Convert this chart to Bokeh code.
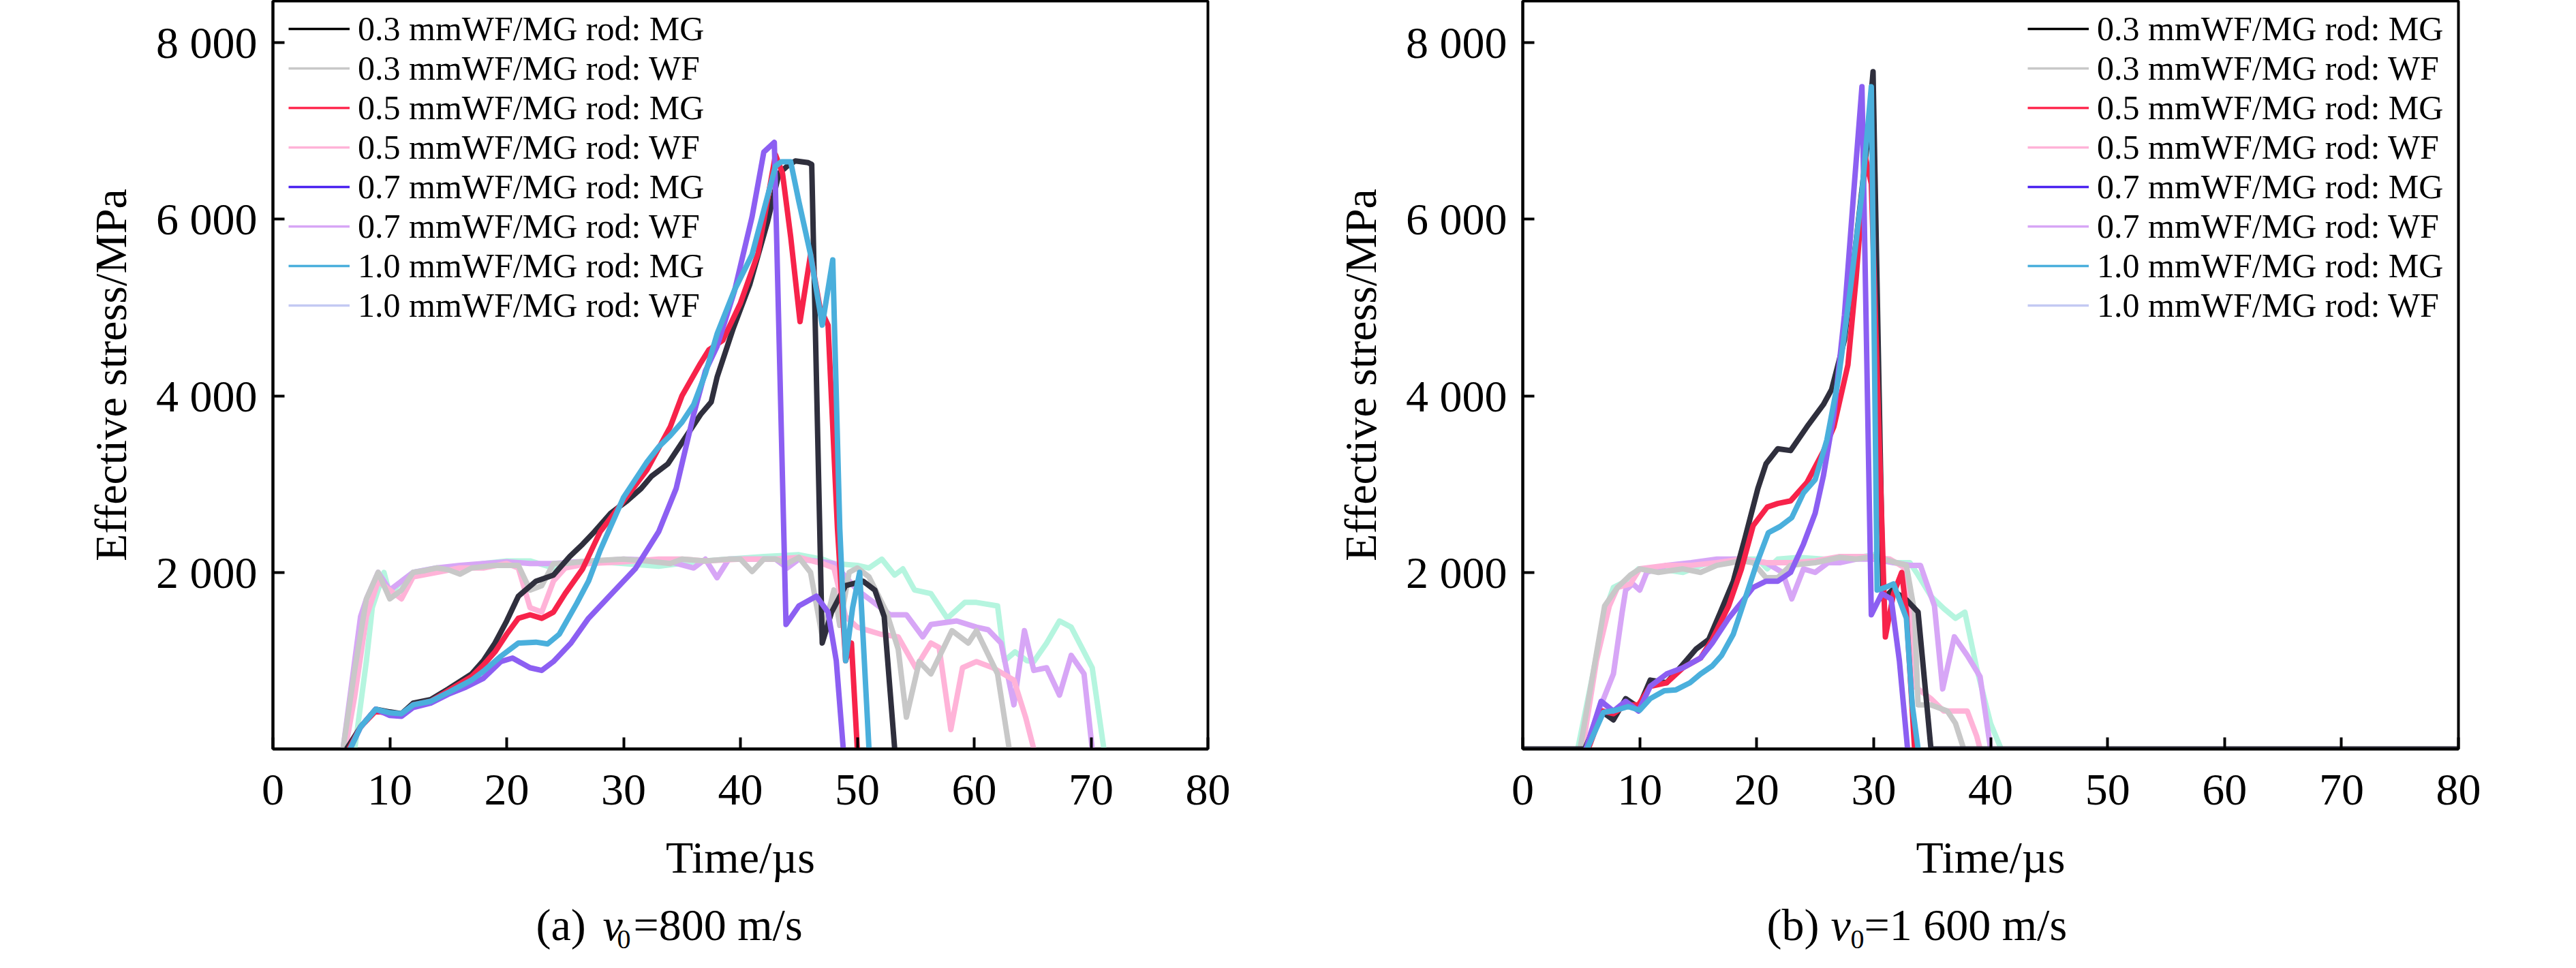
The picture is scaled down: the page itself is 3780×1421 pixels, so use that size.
from bokeh.plotting import figure
from bokeh.models import Range1d, FixedTicker, Legend, LegendItem, Label, CustomJSTickFormatter
from bokeh.layouts import row, column
from bokeh.embed import file_html
from bokeh.resources import INLINE

FONT = "Liberation Serif"
NAN = float("nan")

labels = ["0.3 mmWF/MG rod: MG", "0.3 mmWF/MG rod: WF", "0.5 mmWF/MG rod: MG", "0.5 mmWF/MG rod: WF",
          "0.7 mmWF/MG rod: MG", "0.7 mmWF/MG rod: WF", "1.0 mmWF/MG rod: MG", "1.0 mmWF/MG rod: WF"]
line_colors = ["#2f2f3d", "#c8c8c8", "#f7234a", "#ffb3d8", "#8c5ff2", "#d7a6f6", "#4aafdc", "#b5f5df"]
legend_colors = ["#000000", "#c8c8c8", "#ff2a4f", "#ffb3d8", "#4b23f0", "#d7a6f6", "#4aafdc", "#c3c9f3"]

x_ticks = [0, 10, 20, 30, 40, 50, 60, 70, 80]
y_ticks = [2000, 4000, 6000, 8000]
x_title = "Time/µs"
y_title = "Effective stress/MPa"

# ---------------- (a) v0 = 800 m/s ----------------
a_03mg_t = [6.3, 7.5, 8.8, 10.0, 11.0, 12.0, 13.5, 15.0, 17.0, 18.0, 19.0, 20.0, 21.0, 22.5, 24.0, 25.4, 26.5, 27.5,
            28.9, 30.3, 31.5, 32.4, 33.8, 35.2, 36.6, 37.5, 38.0, 39.4, 40.8, 42.3, 43.3, 44.0, 44.7, 45.8, 46.1, 47.0,
            47.8, 49.0, 50.5, 51.5, 52.3, 53.2]
a_03mg_v = [0, 250, 450, 420, 400, 520, 560, 680, 850, 1000, 1200, 1450, 1730, 1900, 1970, 2180, 2320, 2460,
            2670, 2810, 2950, 3090, 3230, 3510, 3790, 3930, 4210, 4770, 5260, 5960, 6520, 6600, 6660, 6640, 6620, 1200,
            1550, 1850, 1900, 1800, 1500, 0]

a_05mg_t = [6.5, 7.5, 8.8, 10.0, 11.0, 12.0, 13.5, 15.0, 17.0, 18.0, 19.0, 20.0, 21.0, 22.0, 23.0, 24.0, 25.0, 26.5,
            28.0, 30.0, 32.0, 34.0, 35.0, 36.5, 37.3, 38.5, 40.0, 41.5, 43.0, 43.6, 44.3, 45.1, 46.0, 46.8, 47.5, 48.3,
            49.0, 49.5, 50.0]
a_05mg_v = [0, 250, 430, 400, 390, 500, 540, 660, 820, 950, 1100, 1300, 1480, 1520, 1480, 1550, 1760, 2040,
            2460, 2810, 3160, 3650, 4000, 4350, 4520, 4630, 5050, 5610, 6730, 6520, 5800, 4840, 5600, 5000, 4800, 2500,
            1000, 1200, 0]

a_07mg_t = [6.6, 7.5, 8.8, 10.0, 11.0, 12.0, 13.5, 15.0, 16.5, 18.0, 19.5, 20.5, 22.0, 23.0, 24.0, 25.5, 27.0, 29.0,
            31.0, 33.0, 34.5, 36.0, 37.0, 38.0, 39.5, 41.0, 42.0, 42.9, 43.9, 45.0, 46.5, 47.5, 48.2, 48.8]
a_07mg_v = [0, 250, 450, 380, 370, 470, 520, 620, 700, 800, 990, 1030, 920, 890, 990, 1200, 1480, 1760,
            2040, 2460, 2950, 3790, 4280, 4560, 5190, 6030, 6760, 6870, 1410, 1620, 1730, 1550, 1000, 0]

a_10mg_t = [6.6, 7.5, 8.8, 10.0, 11.0, 12.0, 13.5, 15.0, 17.0, 18.0, 19.5, 21.0, 22.5, 23.5, 24.5, 26.0, 27.0, 28.0,
            29.0, 30.0, 31.0, 32.0, 33.0, 34.0, 35.0, 36.0, 37.0, 38.0, 39.5, 41.0, 42.0, 43.0, 43.5, 44.3, 45.0, 46.0,
            47.0, 47.9, 48.5, 49.0, 49.6, 50.2, 51.0]
a_10mg_v = [0, 250, 450, 410, 400, 500, 540, 640, 780, 880, 1050, 1200, 1210, 1190, 1300, 1650, 1900, 2250,
            2550, 2850, 3050, 3250, 3420, 3550, 3700, 3900, 4250, 4700, 5200, 5600, 6100, 6600, 6650, 6650, 6200, 5600,
            4800, 5540, 2500, 1000, 1600, 2000, 0]

a_03wf_t = [6.0, 7.0, 8.0, 9.0, 10.0, 11.0, 12.0, 13.0, 14.0, 15.0, 16.0, 17.0, 19.0, 21.0, 22.0, 23.0, 24.0, 25.0,
            27.0, 30.0, 32.0, 34.0, 35.0, 37.0, 39.0, 40.0, 41.0, 42.0, 43.0, 44.0, 45.0, 46.0, 47.0, 48.0, 48.5, 49.3,
            50.0, 51.0, 52.5, 53.5, 54.2, 55.3, 56.3, 58.1, 59.5, 60.2, 62.0, 63.0]
a_03wf_v = [0, 900, 1700, 2000, 1700, 1800, 2000, 2020, 2050, 2030, 1980, 2050, 2080, 2080, 1800, 1850, 2100, 2100,
            2130, 2150, 2130, 2100, 2150, 2130, 2150, 2150, 2010, 2150, 2150, 2100, 2170, 2000, 1270, 1800, 1400, 2000,
            2050, 1950, 1550, 1130, 360, 990, 850, 1340, 1200, 1340, 850, 0]

a_05wf_t = [6.2, 7.0, 8.0, 9.0, 10.0, 11.0, 12.0, 14.0, 16.0, 18.0, 20.0, 21.0, 22.0, 23.0, 24.0, 25.0, 27.0, 30.0,
            33.0, 35.0, 37.0, 40.0, 43.0, 45.0, 47.0, 48.0, 49.0, 50.0, 52.0, 53.5, 55.0, 56.3, 57.0, 58.0, 59.0, 60.2,
            61.6, 63.4, 64.4, 65.1]
a_05wf_v = [0, 600, 1500, 1900, 1800, 1700, 1950, 2000, 2050, 2050, 2100, 2050, 1600, 1550, 1900, 2050, 2100, 2120,
            2150, 2150, 2130, 2150, 2150, 2170, 2100, 2050, 1500, 1380, 1300, 1270, 920, 1200, 1150, 220, 920, 990,
            920, 780, 360, 0]

a_07wf_t = [6.0, 7.0, 7.5, 8.0, 9.0, 10.0, 11.0, 12.0, 14.0, 16.0, 18.0, 20.0, 22.0, 24.0, 26.0, 28.0, 30.0, 32.0,
            34.0, 36.0, 37.0, 38.0, 39.0, 41.0, 43.0, 44.0, 45.0, 47.0, 48.0, 49.0, 50.0, 51.0, 52.8, 54.2, 55.6, 56.3,
            58.5, 60.2, 61.2, 62.3, 63.4, 64.3, 65.1, 66.2, 67.3, 68.3, 69.4, 70.1]
a_07wf_v = [0, 1000, 1500, 1700, 2000, 1800, 1900, 2000, 2050, 2080, 2100, 2120, 2100, 2100, 2120, 2130, 2150, 2140,
            2120, 2050, 2150, 1940, 2150, 2150, 2150, 2050, 2150, 2120, 2100, 1950, 1800, 1700, 1520, 1520, 1270, 1410,
            1450, 1380, 1350, 1200, 500, 1340, 890, 920, 610, 1060, 850, 0]

a_10wf_t = [7.0, 8.0, 8.5, 9.5, 10.0, 11.0, 12.0, 14.0, 16.0, 18.0, 20.0, 22.0, 24.0, 25.0, 28.0, 30.0, 33.0, 36.0,
            39.0, 42.0, 45.0, 47.0, 48.0, 50.0, 51.0, 52.1, 53.2, 53.9, 54.9, 56.3, 57.7, 59.2, 60.2, 62.0, 62.6, 63.5,
            64.5, 65.1, 66.2, 67.3, 68.3, 69.2, 70.1, 71.1]
a_10wf_v = [0, 1000, 1600, 2000, 1750, 1900, 2000, 2050, 2050, 2100, 2130, 2130, 2050, 2100, 2120, 2100, 2070, 2120,
            2150, 2180, 2200, 2150, 2100, 2080, 2050, 2150, 1970, 2040, 1800, 1760, 1480, 1660, 1660, 1620, 1000, 1100,
            1000, 990, 1200, 1450, 1380, 1150, 920, 0]

# ---------------- (b) v0 = 1 600 m/s ----------------
b_03mg_t = [0, 5.3, 6.7, 7.75, 8.8, 9.9, 10.9, 12.3, 13.7, 14.8, 15.9, 16.9, 18.0, 19.0, 20.1, 20.8, 21.8, 22.9,
            24.3, 25.7, 26.4, 27.5, 28.5, 29.4, 29.95, 30.8, 31.6, 32.8, 33.8, 34.9, 80]
b_03mg_v = [0, 0, 430, 330, 570, 470, 780, 750, 960, 1130, 1240, 1550, 1900, 2390, 2950, 3230, 3400, 3380,
            3650, 3900, 4070, 4630, 5750, 6800, 7670, 1700, 1800, 1690, 1550, 0, 0]

b_05mg_t = [5.6, 6.8, 7.75, 8.8, 9.9, 10.9, 12.3, 13.7, 15.2, 16.2, 17.6, 18.7, 19.7, 20.9, 21.8, 22.9, 24.3, 25.7,
            26.6, 27.8, 28.5, 29.3, 29.8, 31.0, 31.7, 32.4, 32.8, 33.5]
b_05mg_v = [0, 430, 400, 500, 500, 710, 750, 920, 1030, 1240, 1620, 2040, 2530, 2740, 2780, 2810, 3020, 3370,
            3650, 4350, 5330, 6700, 6400, 1270, 1760, 2000, 1550, 0]

b_07mg_t = [5.4, 6.7, 7.75, 8.8, 9.9, 10.9, 12.3, 13.7, 15.2, 16.2, 17.6, 18.7, 19.7, 20.8, 21.8, 22.9, 24.0, 25.0,
            25.7, 26.6, 27.5, 28.3, 29.0, 29.8, 30.7, 31.5, 32.2, 32.9]
b_07mg_v = [0, 540, 430, 540, 430, 710, 850, 920, 1030, 1200, 1480, 1660, 1830, 1900, 1900, 2000, 2320, 2670,
            3090, 3790, 4910, 6310, 7500, 1520, 1760, 1700, 1000, 0]

b_10mg_t = [5.5, 6.9, 8.0, 9.0, 10.0, 10.9, 12.1, 13.1, 14.3, 15.2, 16.2, 17.0, 18.0, 19.0, 20.0, 21.0, 22.0, 23.0,
            24.0, 25.0, 26.0, 27.0, 28.0, 29.0, 29.8, 30.3, 31.0, 31.7, 32.8, 33.3, 33.8]
b_10mg_v = [0, 415, 440, 480, 440, 570, 660, 670, 750, 850, 940, 1060, 1300, 1700, 2100, 2450, 2520, 2620,
            2900, 3050, 3500, 4200, 5200, 6300, 7500, 1800, 1830, 1870, 1480, 500, 0]

b_03wf_t = [4.9, 6.0, 7.0, 8.1, 9.2, 10.0, 11.6, 13.7, 15.2, 16.6, 18.7, 19.7, 20.8, 21.8, 22.9, 25.0, 27.1, 28.5,
            30.0, 31.4, 32.8, 33.5, 33.8, 34.9, 36.3, 37.0, 37.7]
b_03wf_v = [0, 850, 1620, 1830, 1970, 2040, 2000, 2040, 2000, 2080, 2130, 2110, 1940, 1940, 2080, 2110, 2170, 2150,
            2180, 2130, 2080, 1550, 500, 500, 430, 290, 0]

b_05wf_t = [5.1, 6.3, 7.4, 8.1, 9.2, 10.0, 12.3, 14.4, 16.6, 18.7, 20.8, 22.9, 25.0, 27.1, 29.2, 31.4, 32.8, 33.1,
            33.5, 34.9, 36.0, 37.0, 38.0, 38.8, 39.1]
b_05wf_v = [0, 1000, 1620, 1830, 1870, 2040, 2080, 2080, 2110, 2150, 2110, 2110, 2130, 2180, 2180, 2150, 2040, 1550,
            710, 570, 430, 430, 430, 150, 0]

b_07wf_t = [5.3, 6.7, 7.75, 8.5, 8.8, 9.4, 10.0, 10.6, 12.3, 14.4, 16.6, 18.7, 20.8, 22.2, 23.0, 24.0, 25.0, 26.1,
            27.1, 28.5, 30.0, 31.7, 33.1, 34.0, 35.2, 35.9, 36.9, 38.0, 39.1, 40.0]
b_07wf_v = [0, 500, 850, 1550, 1800, 1870, 1800, 2000, 2080, 2110, 2150, 2150, 2110, 2000, 1700, 2040, 2000, 2110,
            2110, 2150, 2150, 2110, 2080, 2080, 1620, 680, 1270, 1060, 820, 0]

b_10wf_t = [4.7, 6.0, 7.0, 7.75, 8.8, 9.9, 11.6, 13.7, 15.9, 18.0, 20.1, 20.9, 21.8, 23.6, 25.7, 27.8, 30.0, 31.7,
            33.1, 33.8, 34.9, 36.0, 37.0, 37.8, 38.8, 40.0, 40.9]
b_10wf_v = [0, 850, 1550, 1830, 1900, 2040, 2040, 2000, 2110, 2150, 2150, 2040, 2150, 2170, 2150, 2150, 2200, 2110,
            2110, 1970, 1730, 1590, 1480, 1550, 920, 290, 0]

series_a = [(a_03mg_t, a_03mg_v), (a_03wf_t, a_03wf_v), (a_05mg_t, a_05mg_v), (a_05wf_t, a_05wf_v),
            (a_07mg_t, a_07mg_v), (a_07wf_t, a_07wf_v), (a_10mg_t, a_10mg_v), (a_10wf_t, a_10wf_v)]
series_b = [(b_03mg_t, b_03mg_v), (b_03wf_t, b_03wf_v), (b_05mg_t, b_05mg_v), (b_05wf_t, b_05wf_v),
            (b_07mg_t, b_07mg_v), (b_07wf_t, b_07wf_v), (b_10mg_t, b_10mg_v), (b_10wf_t, b_10wf_v)]

# draw order: WF curves (1.0 -> 0.3) first, then MG curves (0.3 -> 1.0)
draw_order = [7, 5, 3, 1, 0, 2, 4, 6]

y_fmt = CustomJSTickFormatter(code="""
if (tick >= 1000) { return Math.floor(tick/1000) + ' ' + String(tick % 1000).padStart(3, '0'); }
return String(tick);
""")

FIG_W = 1882
FRAME_H = 1098
FIG_H = 1 + FRAME_H + 118
CAP_H = 1413 - 8 - FIG_H


def make_panel(series, min_left, min_right, legend_x):
    p = figure(width=FIG_W, height=FIG_H, x_range=Range1d(0, 80), y_range=Range1d(0, 8471),
               output_backend="svg", toolbar_location=None, title=None,
               min_border_left=min_left, min_border_right=min_right,
               min_border_top=1, min_border_bottom=FIG_H - 1 - FRAME_H)
    p.grid.visible = False
    p.background_fill_color = "white"
    p.border_fill_color = "white"
    p.outline_line_color = "black"
    p.outline_line_width = 4
    p.outline_line_alpha = 1

    for ax in (p.xaxis[0], p.yaxis[0]):
        ax.axis_line_width = 4
        ax.axis_line_color = "black"
        ax.major_tick_line_width = 4
        ax.major_tick_line_color = "black"
        ax.major_tick_in = 17
        ax.major_tick_out = 0
        ax.minor_tick_line_color = None
        ax.major_label_text_font = FONT
        ax.major_label_text_font_size = "66px"
        ax.major_label_text_color = "black"
        ax.axis_label_text_font = FONT
        ax.axis_label_text_font_size = "66px"
        ax.axis_label_text_font_style = "normal"
        ax.axis_label_text_color = "black"

    p.xaxis.ticker = FixedTicker(ticks=x_ticks)
    p.xaxis.major_label_standoff = 38

    p.yaxis.ticker = FixedTicker(ticks=y_ticks)
    p.yaxis.formatter = y_fmt
    p.yaxis.major_label_standoff = 23
    p.yaxis.axis_label = y_title
    p.yaxis.axis_label_standoff = 27

    for i in draw_order:
        t, v = series[i]
        p.line(t, v, line_color=line_colors[i], line_width=8, line_join="round")

    items = []
    for i in range(8):
        r = p.line(x=[NAN], y=[NAN], line_color=legend_colors[i], line_width=3.5)
        items.append(LegendItem(label=labels[i], renderers=[r]))
    leg = Legend(items=items, location=(legend_x, 622), orientation="vertical",
                 glyph_width=90, glyph_height=58, label_height=58, label_standoff=12,
                 spacing=0, padding=0, margin=0,
                 label_text_font=FONT, label_text_font_size="50px", label_text_color="black",
                 background_fill_alpha=0, border_line_alpha=0)
    p.add_layout(leg)
    return p


def make_caption(min_left, min_right, parts):
    # strip under the chart holding the x-axis title and the sub-caption;
    # same frame geometry as the chart above (x in px from frame left, y = text-box centre in px from strip bottom)
    frame_w = FIG_W - min_left - min_right
    c = figure(width=FIG_W, height=CAP_H, x_range=Range1d(0, frame_w), y_range=Range1d(0, CAP_H),
               output_backend="svg", toolbar_location=None, x_axis_type=None, y_axis_type=None, title=None,
               min_border_left=min_left, min_border_right=min_right, min_border_top=0, min_border_bottom=0)
    c.grid.visible = False
    c.outline_line_color = None
    c.background_fill_color = "white"
    c.border_fill_color = "white"
    c.add_layout(Label(x=frame_w / 2, y=147, text=x_title, text_font=FONT, text_font_size="66px",
                       text_baseline="middle", text_align="center", text_color="black"))
    for (x, y, txt, size, style) in parts:
        c.add_layout(Label(x=x, y=y, text=txt, text_font=FONT, text_font_size=size, text_font_style=style,
                           text_baseline="middle", text_align="left", text_color="black"))
    return c


MID = 48     # caption text-box centre (px above the strip's bottom)
SUB = 27     # subscript text-box centre

pa = make_panel(series_a, 400, 110, 23)
pb = make_panel(series_b, 352, 157, 741)

ca = make_caption(400, 110, [(386, MID, "(a)", "66px", "normal"), (484, MID, "v", "66px", "italic"),
                             (505, SUB, "0", "40px", "normal"), (529, MID, "=800 m/s", "66px", "normal")])
cb = make_caption(352, 157, [(358, MID, "(b)", "66px", "normal"), (452, MID, "v", "66px", "italic"),
                             (481, SUB, "0", "40px", "normal"), (501, MID, "=1 600 m/s", "66px", "normal")])

layout = row(column(pa, ca), column(pb, cb))
open("out.html", "w").write(file_html(layout, INLINE))
